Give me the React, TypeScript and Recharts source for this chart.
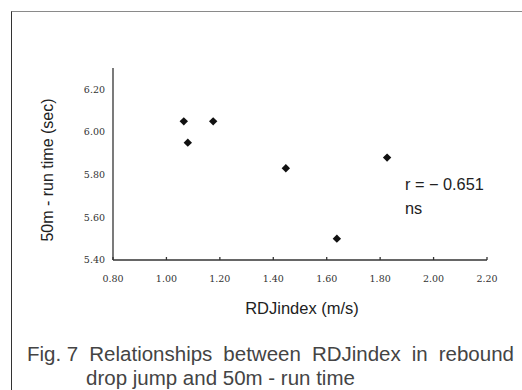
import React from 'react';
import { ScatterChart, Scatter, XAxis, YAxis } from 'recharts';

const rdjIndex = [1.065, 1.08, 1.175, 1.447, 1.638, 1.826];
const runTime = [6.05, 5.95, 6.05, 5.83, 5.5, 5.88];
const xTicks = [0.8, 1.0, 1.2, 1.4, 1.6, 1.8, 2.0, 2.2];
const yTicks = [5.4, 5.6, 5.8, 6.0, 6.2];

const data = rdjIndex.map((x, i) => ({ x, y: runTime[i] }));

const Diamond = (props: any) => {
  const { cx, cy } = props;
  const r = 4.2;
  return (
    <polygon
      points={`${cx},${cy - r} ${cx + r},${cy} ${cx},${cy + r} ${cx - r},${cy}`}
      fill="#111"
    />
  );
};

const tickStyle = { fill: '#333', fontSize: 9.5, fontFamily: '"DejaVu Serif", serif' };
const sans = '"Liberation Sans", Arial, sans-serif';

export default function App() {
  return (
    <div style={{ position: 'absolute', left: 0, top: 0, width: 522, height: 390, background: '#fff', overflow: 'hidden' }}>
      {/* frame */}
      <div
        style={{
          position: 'absolute', left: 11, top: 11, width: 530, height: 400,
          borderTop: '1.5px solid #8a8a8a', borderLeft: '1.5px solid #333'
        }}
      />
      <div style={{ position: 'absolute', left: 0, top: 0 }}>
        <ScatterChart width={522} height={330} margin={{ top: 68, right: 35, bottom: 30, left: 13 }}>
          <XAxis
            type="number"
            dataKey="x"
            domain={[0.8, 2.2]}
            ticks={xTicks}
            tickFormatter={(v: number) => v.toFixed(2)}
            tick={tickStyle}
            stroke="#333"
            strokeWidth={1.3}
            tickSize={-3}
            tickMargin={18}
            height={40}
            allowDataOverflow
          />
          <YAxis
            type="number"
            dataKey="y"
            domain={[5.4, 6.3]}
            ticks={yTicks}
            tickFormatter={(v: number) => v.toFixed(2)}
            tick={tickStyle}
            stroke="#333"
            strokeWidth={1.3}
            tickLine={false}
            width={100}
            allowDataOverflow
          />
          <Scatter data={data} shape={<Diamond />} isAnimationActive={false} />
        </ScatterChart>
      </div>
      {/* y axis title */}
      <div
        style={{
          position: 'absolute', left: 48, top: 170, transform: 'translate(-50%, -50%) rotate(-90deg)',
          whiteSpace: 'nowrap', fontFamily: sans, fontSize: 16, color: '#222'
        }}
      >
        50m - run time (sec)
      </div>
      {/* x axis title */}
      <div
        style={{
          position: 'absolute', left: 302, top: 308, transform: 'translate(-50%, -50%)',
          whiteSpace: 'nowrap', fontFamily: sans, fontSize: 16.5, color: '#222'
        }}
      >
        RDJindex (m/s)
      </div>
      {/* annotation */}
      <div
        style={{
          position: 'absolute', left: 405, top: 172, fontFamily: sans, fontSize: 16.3,
          lineHeight: '24px', color: '#222', whiteSpace: 'nowrap'
        }}
      >
        <div>r = − 0.651</div>
        <div>ns</div>
      </div>
      {/* caption */}
      <div
        style={{
          position: 'absolute', left: 27, top: 342, width: 487, fontFamily: sans, fontSize: 20.5,
          lineHeight: '24px', color: '#444', whiteSpace: 'nowrap'
        }}
      >
        <div style={{ display: 'flex', justifyContent: 'space-between' }}>
          <span>Fig. 7</span>
          <span>Relationships</span>
          <span>between</span>
          <span>RDJindex</span>
          <span>in</span>
          <span>rebound</span>
        </div>
        <div style={{ paddingLeft: 59 }}>drop jump and 50m - run time</div>
      </div>
    </div>
  );
}
